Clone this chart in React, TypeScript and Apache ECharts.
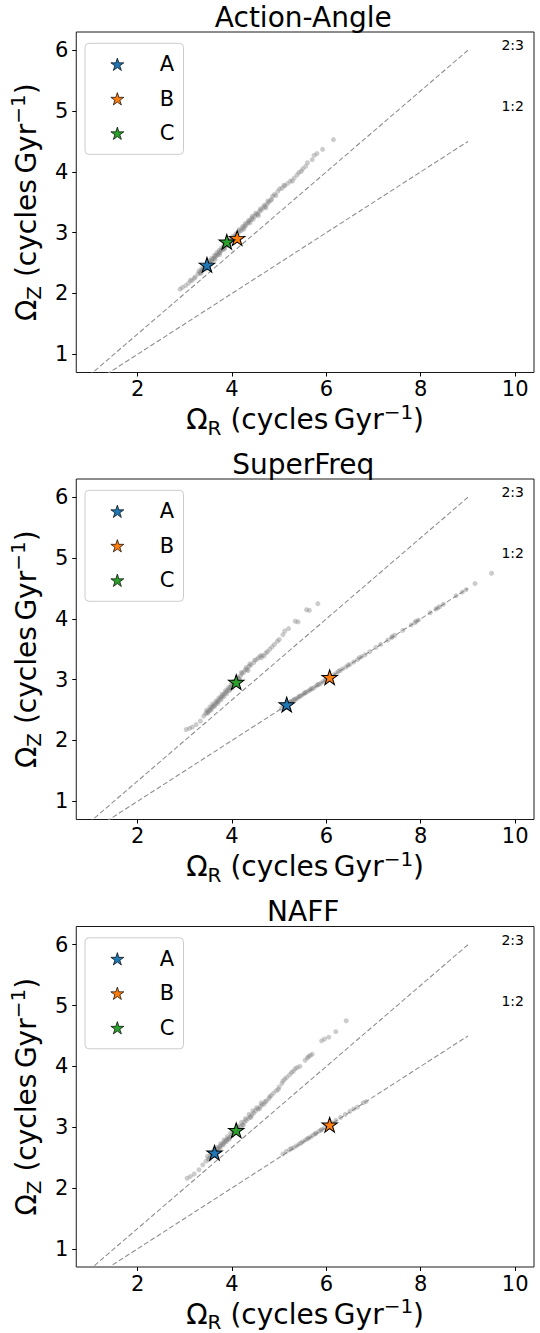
import React, { useEffect, useRef } from "react";
import * as echarts from "echarts";

const titles = ["Action-Angle", "SuperFreq", "NAFF"];
const xTicks = [2, 4, 6, 8, 10];
const yTicks = [1, 2, 3, 4, 5, 6];
const starNames = ["A", "B", "C"];
const starColors = ["#1f77b4", "#ff7f0e", "#2ca02c"];

const starsAA = [[3.47, 2.47], [4.11, 2.91], [3.89, 2.85]];
const starsSF = [[5.16, 2.59], [6.07, 3.04], [4.09, 2.96]];
const starsNAFF = [[3.63, 2.58], [6.07, 3.04], [4.09, 2.95]];

const cloudAA = [
  [2.9, 2.07], [2.95, 2.1], [3.02, 2.13], [3.08, 2.17], [3.15, 2.21], [3.22, 2.27],
  [3.28, 2.32], [3.32, 2.34], [3.35, 2.37], [3.38, 2.38], [3.4, 2.41], [3.43, 2.42],
  [3.46, 2.45], [3.48, 2.47], [3.5, 2.49], [3.53, 2.5], [3.55, 2.53], [3.58, 2.54],
  [3.6, 2.57], [3.62, 2.58], [3.65, 2.61], [3.67, 2.62], [3.7, 2.64], [3.72, 2.67],
  [3.75, 2.68], [3.77, 2.71], [3.8, 2.72], [3.82, 2.75], [3.85, 2.76], [3.88, 2.79],
  [3.9, 2.8], [3.93, 2.83], [3.96, 2.85], [3.98, 2.88], [4.01, 2.89], [4.04, 2.92],
  [4.07, 2.94], [4.1, 2.97], [4.13, 2.99], [4.17, 3.03], [4.2, 3.04], [4.24, 3.08],
  [4.27, 3.11], [4.3, 3.12], [4.33, 3.16], [4.36, 3.18], [4.4, 3.21], [4.42, 3.24],
  [4.45, 3.22], [4.48, 3.27], [4.52, 3.3], [4.55, 3.31], [4.58, 3.35], [4.62, 3.37],
  [4.66, 3.41], [4.7, 3.43], [4.74, 3.47], [4.78, 3.5], [4.82, 3.53], [4.86, 3.6],
  [4.9, 3.63], [4.93, 3.61], [4.97, 3.68], [5.01, 3.72], [5.06, 3.73], [5.12, 3.77],
  [5.18, 3.81], [5.24, 3.85], [5.32, 3.9], [5.38, 3.95], [5.42, 3.99], [5.47, 4.01],
  [5.56, 4.09], [5.7, 4.2], [5.74, 4.27], [5.8, 4.3], [5.92, 4.37], [6.15, 4.53],
  [3.3, 2.37], [3.36, 2.41], [3.42, 2.46], [3.47, 2.5], [3.52, 2.54], [3.57, 2.58],
  [3.63, 2.63], [3.68, 2.67], [3.73, 2.71], [3.78, 2.75], [3.83, 2.79], [3.87, 2.83],
  [3.92, 2.86], [3.97, 2.9], [4.02, 2.94], [4.08, 2.98], [4.15, 3.05], [4.22, 3.1],
  [4.28, 3.15], [4.35, 3.2], [4.43, 3.27], [4.5, 3.32], [4.6, 3.39], [4.68, 3.45],
  [4.76, 3.52], [3.34, 2.33], [3.44, 2.4], [3.54, 2.48], [3.64, 2.56], [3.74, 2.64],
  [3.84, 2.73], [3.94, 2.8], [4.05, 2.88], [4.25, 3.06], [4.38, 3.16], [4.56, 3.28],
  [4.72, 3.41], [4.84, 3.55], [5.1, 3.78], [5.28, 3.85], [5.5, 4.05], [5.6, 4.15],
  [3.12, 2.22], [3.2, 2.25],
];

const cloudSFUpper = [
  [3.03, 2.18], [3.1, 2.2], [3.16, 2.22], [3.24, 2.26], [3.33, 2.32], [3.4, 2.4],
  [3.44, 2.44], [3.47, 2.46], [3.5, 2.48], [3.52, 2.49], [3.55, 2.52], [3.57, 2.54],
  [3.6, 2.56], [3.62, 2.58], [3.65, 2.6], [3.68, 2.63], [3.7, 2.64], [3.73, 2.67],
  [3.76, 2.7], [3.78, 2.72], [3.81, 2.74], [3.84, 2.77], [3.87, 2.79], [3.9, 2.82],
  [3.93, 2.84], [3.96, 2.87], [3.99, 2.89], [4.02, 2.92], [4.06, 2.95], [4.1, 2.99],
  [4.14, 3.02], [4.18, 3.06], [4.21, 3.1], [4.25, 3.12], [4.28, 3.16], [4.32, 3.17],
  [4.36, 3.22], [4.4, 3.24], [4.46, 3.28], [4.52, 3.33], [4.56, 3.36], [4.6, 3.39],
  [4.64, 3.4], [4.68, 3.39], [4.75, 3.46], [4.8, 3.5], [4.85, 3.54], [4.96, 3.63],
  [5.08, 3.74], [5.12, 3.8], [5.2, 3.84], [5.34, 3.96], [5.4, 3.95], [5.58, 4.15],
  [5.64, 4.14], [5.82, 4.25],
  [3.46, 2.5], [3.53, 2.55], [3.59, 2.6], [3.66, 2.65], [3.72, 2.7], [3.79, 2.76],
  [3.86, 2.82], [3.92, 2.87], [3.98, 2.92], [4.04, 2.97], [4.12, 3.04], [4.2, 3.12],
  [4.3, 3.2], [4.38, 3.26], [4.48, 3.32], [3.49, 2.45], [3.56, 2.5], [3.63, 2.56],
  [3.7, 2.61], [3.77, 2.67], [3.83, 2.72], [3.89, 2.77], [3.95, 2.82], [4.0, 2.86],
  [4.16, 3.0], [4.34, 3.15], [4.62, 3.36], [4.72, 3.44], [4.9, 3.58], [5.0, 3.66],
];

const cloudSFLower = [
  [5.05, 2.53], [5.1, 2.56], [5.14, 2.58], [5.19, 2.6], [5.22, 2.62], [5.26, 2.64],
  [5.3, 2.66], [5.34, 2.67], [5.37, 2.69], [5.41, 2.71], [5.45, 2.73], [5.49, 2.75],
  [5.53, 2.77], [5.57, 2.79], [5.61, 2.81], [5.65, 2.83], [5.7, 2.85], [5.74, 2.87],
  [5.79, 2.9], [5.84, 2.92], [5.88, 2.94], [5.93, 2.97], [5.98, 2.99], [6.03, 3.02],
  [6.1, 3.05], [6.16, 3.08], [6.22, 3.11], [6.29, 3.15], [6.35, 3.18], [6.42, 3.21],
  [6.5, 3.25], [6.58, 3.29], [6.66, 3.33], [6.75, 3.38], [6.82, 3.41], [6.92, 3.46],
  [7.05, 3.53], [7.15, 3.58], [7.3, 3.65], [7.38, 3.69], [7.45, 3.73], [7.62, 3.81],
  [7.8, 3.9], [7.88, 3.94], [7.95, 3.98], [8.2, 4.1], [8.32, 4.16], [8.4, 4.2],
  [8.48, 4.24], [8.75, 4.38], [8.88, 4.44], [8.96, 4.48], [9.15, 4.58], [9.5, 4.75],
  [5.12, 2.58], [5.24, 2.64], [5.32, 2.68], [5.43, 2.73], [5.55, 2.79], [5.68, 2.85],
  [5.82, 2.92], [6.0, 3.01], [6.26, 3.14], [6.46, 3.24], [6.7, 3.36], [7.4, 3.71],
  [7.9, 3.96], [8.36, 4.18],
];

const cloudNAFFUpper = [
  [3.05, 2.16], [3.12, 2.19], [3.2, 2.23], [3.3, 2.3], [3.38, 2.38], [3.45, 2.44],
  [3.5, 2.48], [3.54, 2.52], [3.58, 2.55], [3.61, 2.57], [3.65, 2.61], [3.68, 2.63],
  [3.71, 2.65], [3.74, 2.68], [3.77, 2.7], [3.8, 2.72], [3.83, 2.75], [3.86, 2.77],
  [3.89, 2.79], [3.92, 2.81], [3.95, 2.83], [3.99, 2.86], [4.02, 2.89], [4.06, 2.91],
  [4.1, 2.95], [4.14, 2.98], [4.18, 3.01], [4.22, 3.04], [4.26, 3.08], [4.3, 3.11],
  [4.34, 3.14], [4.38, 3.17], [4.42, 3.2], [4.46, 3.23], [4.5, 3.27], [4.55, 3.3],
  [4.6, 3.34], [4.64, 3.37], [4.68, 3.38], [4.73, 3.43], [4.78, 3.47], [4.83, 3.52],
  [4.88, 3.56], [4.94, 3.6], [5.0, 3.66], [5.06, 3.72], [5.12, 3.79], [5.16, 3.82],
  [5.22, 3.86], [5.3, 3.92], [5.38, 3.98], [5.44, 4.0], [5.55, 4.1], [5.62, 4.16],
  [5.66, 4.18], [5.7, 4.2], [5.9, 4.42], [5.96, 4.45], [6.05, 4.48], [6.2, 4.57],
  [6.42, 4.75],
  [3.48, 2.52], [3.55, 2.57], [3.62, 2.62], [3.69, 2.67], [3.76, 2.73], [3.83, 2.79],
  [3.9, 2.84], [3.97, 2.9], [4.04, 2.95], [4.12, 3.02], [4.2, 3.08], [4.28, 3.14],
  [4.36, 3.21], [4.44, 3.27], [4.52, 3.32], [4.62, 3.4], [3.52, 2.47], [3.6, 2.53],
  [3.67, 2.59], [3.75, 2.65], [3.82, 2.71], [3.88, 2.76], [3.94, 2.8], [4.08, 2.92],
  [4.24, 3.03], [4.4, 3.16], [4.58, 3.3], [4.7, 3.42], [4.8, 3.5], [4.98, 3.62],
  [5.08, 3.76], [5.26, 3.9], [5.34, 3.96], [5.6, 4.14],
];

const cloudNAFFLower = [
  [5.08, 2.56], [5.15, 2.6], [5.22, 2.63], [5.3, 2.66], [5.36, 2.69], [5.42, 2.72],
  [5.5, 2.76], [5.56, 2.79], [5.62, 2.82], [5.67, 2.84], [5.72, 2.87], [5.78, 2.9],
  [5.84, 2.93], [5.9, 2.96], [5.96, 2.99], [6.02, 3.02], [6.12, 3.07], [6.2, 3.11],
  [6.3, 3.16], [6.4, 3.21], [6.5, 3.26], [6.58, 3.3], [6.66, 3.33], [6.78, 3.4],
  [6.84, 3.42], [5.26, 2.65], [5.46, 2.74], [5.6, 2.81], [5.76, 2.89], [5.88, 2.95],
];

const line23 = [[0, 0], [9, 6]];
const line12 = [[0, 0], [9, 4.5]];
const ratioLabelTexts = ["2:3", "1:2"];
const ratioLabelPos = [[9.7, 6.0], [9.7, 5.0]];

const panelStars = [starsAA, starsSF, starsNAFF];
const panelClouds = [[cloudAA], [cloudSFUpper, cloudSFLower], [cloudNAFFUpper, cloudNAFFLower]];

const FONT = "DejaVu Sans";
const STAR =
  "path://M0,-1L0.2245,-0.309L0.9511,-0.309L0.3633,0.118L0.5878,0.809L0,0.382L-0.5878,0.809L-0.3633,0.118L-0.9511,-0.309L-0.2245,-0.309Z";

const panelTops = [32, 479, 926.5];
const plotLeft = 72.5;
const plotWidth = 461.5;
const plotHeight = 340.5;

const richLabel = {
  m: { fontSize: 28, fontFamily: FONT, color: "#000", lineHeight: 36, verticalAlign: "middle" },
  sub: { fontSize: 20, fontFamily: FONT, color: "#000", lineHeight: 20, verticalAlign: "bottom" },
  sup: { fontSize: 20, fontFamily: FONT, color: "#000", lineHeight: 22, verticalAlign: "top" },
};

function buildOption() {
  const grid: any[] = [];
  const xAxis: any[] = [];
  const yAxis: any[] = [];
  const series: any[] = [];
  const legend: any[] = [];
  const graphic: any[] = [];

  for (let p = 0; p < 3; p++) {
    const top = panelTops[p];
    grid.push({
      left: plotLeft,
      top,
      width: plotWidth,
      height: plotHeight,
      show: true,
      borderColor: "#1a1a1a",
      borderWidth: 1,
      backgroundColor: "#fff",
    });
    xAxis.push({
      gridIndex: p,
      type: "value",
      min: 0.7,
      max: 10.4,
      name: "{m|Ω}{sub|R}{m| (cycles\u2009Gyr}{sup|−1}{m|)}",
      nameLocation: "middle",
      nameGap: 29,
      nameTextStyle: { rich: richLabel },
      axisLine: { show: false },
      splitLine: { show: false },
      axisTick: { show: true, customValues: xTicks, length: 4, lineStyle: { color: "#000" } },
      axisLabel: {
        customValues: xTicks,
        fontSize: 21,
        fontFamily: FONT,
        color: "#000",
        margin: 6,
      },
    });
    yAxis.push({
      gridIndex: p,
      type: "value",
      min: 0.7,
      max: 6.3,
      name: "{m|Ω}{sub|Z}{m| (cycles\u2009Gyr}{sup|−1}{m|)}",
      nameLocation: "middle",
      nameGap: 24,
      nameTextStyle: { rich: richLabel },
      axisLine: { show: false },
      splitLine: { show: false },
      axisTick: { show: true, customValues: yTicks, length: 4, lineStyle: { color: "#000" } },
      axisLabel: {
        customValues: yTicks,
        fontSize: 21,
        fontFamily: FONT,
        color: "#000",
        margin: 8,
      },
    });

    const lineStyle = { color: "#8f8f8f", width: 1.1, type: [5, 2.5] };
    series.push({
      type: "line",
      xAxisIndex: p,
      yAxisIndex: p,
      data: line23,
      symbol: "none",
      silent: true,
      clip: true,
      lineStyle,
      z: 1,
    });
    series.push({
      type: "line",
      xAxisIndex: p,
      yAxisIndex: p,
      data: line12,
      symbol: "none",
      silent: true,
      clip: true,
      lineStyle,
      z: 1,
    });
    for (const cloud of panelClouds[p]) {
      series.push({
        type: "scatter",
        xAxisIndex: p,
        yAxisIndex: p,
        data: cloud,
        symbolSize: 5,
        silent: true,
        itemStyle: { color: "rgba(128,128,128,0.4)", opacity: 1 },
        z: 2,
      });
    }
    ratioLabelTexts.forEach((t, i) => {
      series.push({
        type: "scatter",
        xAxisIndex: p,
        yAxisIndex: p,
        data: [ratioLabelPos[i]],
        symbolSize: 1,
        silent: true,
        itemStyle: { color: "rgba(0,0,0,0)", opacity: 1 },
        label: {
          show: true,
          formatter: t,
          position: "right",
          distance: 0,
          offset: [0, -5],
          fontSize: 14,
          fontFamily: FONT,
          color: "#000",
          opacity: 1,
        },
        z: 2,
      });
    });
    starNames.forEach((n, i) => {
      series.push({
        type: "scatter",
        name: n,
        xAxisIndex: p,
        yAxisIndex: p,
        data: [panelStars[p][i]],
        symbol: STAR,
        symbolSize: [15.5, 14.8],
        itemStyle: { color: starColors[i], borderColor: "#000", borderWidth: 1, opacity: 1 },
        z: 5,
      });
    });

    legend.push({
      orient: "vertical",
      left: 85,
      top: top + 11.3,
      data: starNames.map((n, i) => ({
        name: n,
        icon: STAR,
        itemStyle: { color: starColors[i], borderColor: "#000", borderWidth: 0.7, opacity: 1 },
      })),
      itemWidth: 13,
      itemHeight: 13,
      itemGap: 12.5,
      padding: [10, 9, 10, 25.5],
      borderColor: "#cccccc",
      borderWidth: 1,
      borderRadius: 4,
      backgroundColor: "rgba(255,255,255,0.8)",
      selectedMode: false,
      textStyle: {
        fontSize: 21,
        fontFamily: FONT,
        color: "#000",
        lineHeight: 22,
        padding: [0, 0, 0, 31],
      },
    });

    graphic.push({
      type: "text",
      x: plotLeft + plotWidth / 2,
      y: top - 15,
      style: {
        text: titles[p],
        fontSize: 28,
        fontFamily: FONT,
        fill: "#000",
        align: "center",
        verticalAlign: "middle",
        textAlign: "center",
        textVerticalAlign: "middle",
      },
    });
  }

  return {
    animation: false,
    backgroundColor: "#fff",
    textStyle: { fontFamily: FONT },
    grid,
    xAxis,
    yAxis,
    series,
    legend,
    graphic,
  };
}

export default function App() {
  const ref = useRef<HTMLDivElement>(null);
  useEffect(() => {
    if (!ref.current) return;
    const chart = echarts.init(ref.current, null, { renderer: "svg" });
    chart.setOption(buildOption() as any);
    return () => chart.dispose();
  }, []);
  return (
    <div
      ref={ref}
      style={{ position: "absolute", left: 0, top: 0, width: 540, height: 1333, background: "#fff" }}
    />
  );
}
